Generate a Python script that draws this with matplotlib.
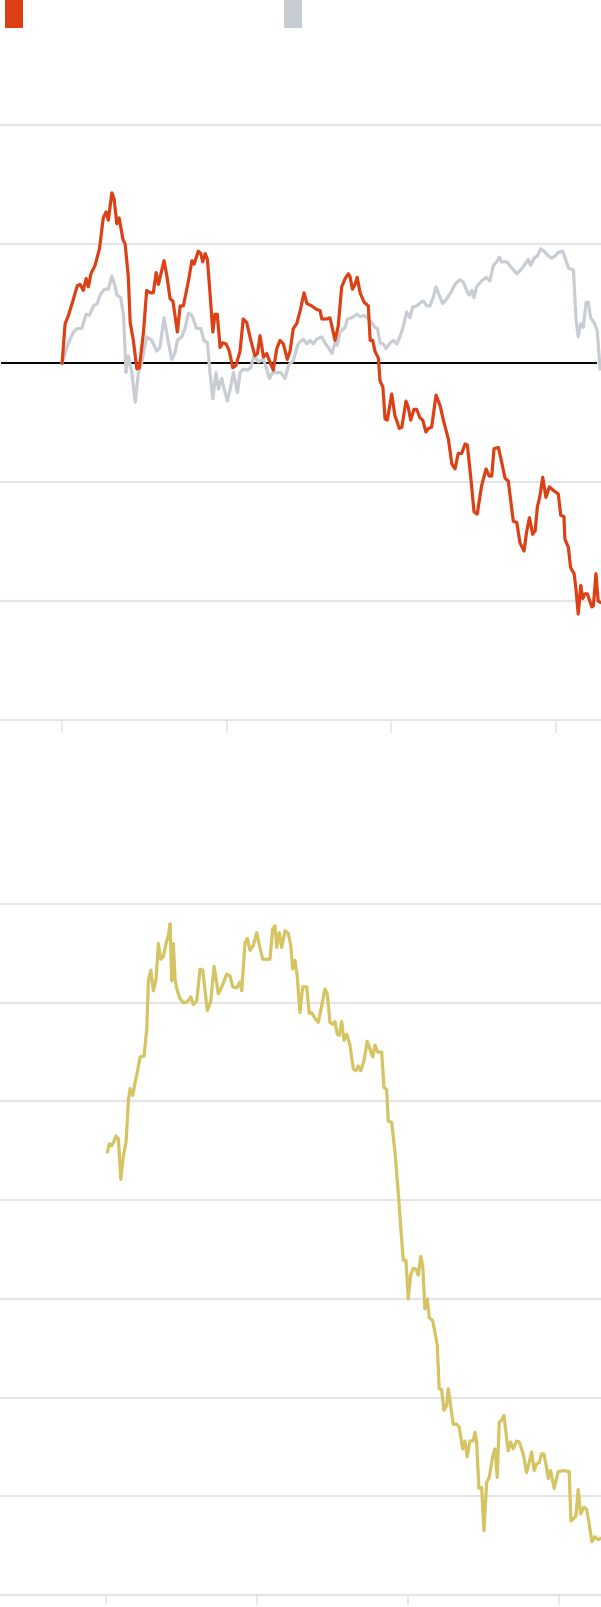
import matplotlib
matplotlib.use("Agg")
import matplotlib.pyplot as plt
from matplotlib.patches import Rectangle

# ---------------- data (x in weeks from first tick) ----------------
orange_w = [0, 0.95, 2.0, 3.6, 4.8, 5.7, 6.7, 7.6, 8.3, 9.1,
            10.4, 11.8, 13.0, 13.9, 14.6, 15.7, 16.4, 17.3, 18.0, 19.2,
            19.9, 20.9, 21.5, 22.5, 23.6, 24.4, 25.7, 26.7, 27.8, 28.8,
            29.7, 30.4, 31.3, 32.2, 33.1, 34.1, 35.0, 36.4, 37.3, 38.3,
            39.9, 41.0, 41.7, 43.0, 43.8, 44.4, 45.2, 45.9, 46.7, 47.6,
            48.3, 49.0, 49.9, 50.7, 51.8, 52.8, 53.9, 54.9, 56.2, 57.2,
            58.3, 59.6, 60.9, 61.7, 62.5, 63.6, 64.6, 65.9, 66.7, 67.8,
            68.8, 69.9, 71.1, 72.0, 73.0, 74.1, 75.2, 76.4, 77.3, 78.8,
            80.4, 81.5, 82.0, 83.6, 84.6, 85.2, 86.2, 87.2, 88.3, 89.4,
            90.4, 90.9, 91.7, 92.5, 93.2, 94.1, 95.4, 96.7, 97.3, 98.1,
            98.8, 99.9, 100.4, 101.3, 102.0, 102.7, 104.1, 105.1, 106.5, 107.3,
            108.6, 109.3, 110.1, 111.1, 112.0, 113.0, 113.9, 114.9, 115.7, 116.7,
            118.1, 119.4, 120.4, 122.0, 123.1, 124.1, 125.1, 126.2, 127.3, 128.0,
            129.1, 130.1, 131.1, 132.5, 133.9, 134.9, 135.7, 136.4, 137.8, 138.8,
            139.9, 140.9, 142.5, 143.6, 144.6, 145.9, 146.7, 147.6, 148.6, 149.4,
            150.1, 150.9, 151.8, 152.8, 153.9, 155.1, 156.7, 157.5, 158.5, 158.8,
            159.9, 160.6, 161.7, 162.3, 163.0, 163.8, 164.4, 165.1, 165.9, 167.3,
            167.8, 168.6, 169.3, 169.9]
orange_v = [0, 3.3, 4.0, 5.4, 6.5, 6.6, 6.1, 7.1, 6.4, 7.5,
            8.2, 9.6, 12.2, 12.7, 12.0, 14.3, 13.8, 11.7, 12.2, 10.4,
            10.0, 7.3, 3.4, 1.9, -0.5, -0.4, 2.6, 6.1, 5.9, 5.9,
            7.6, 6.6, 7.6, 8.6, 7.3, 5.4, 5.2, 2.6, 4.8, 4.8,
            6.9, 8.6, 8.3, 9.4, 9.2, 8.5, 9.2, 8.7, 5.9, 2.6,
            4.1, 4.1, 1.3, 1.7, 1.6, 1.0, -0.4, -0.2, 1.0, 3.7,
            3.4, 1.9, 0.6, 0.8, 2.3, 0.5, 0.8, -0.1, -0.6, 1.2,
            1.9, 1.6, 0.3, 1.0, 2.9, 3.3, 4.4, 5.9, 5.0, 4.8,
            4.5, 4.4, 3.7, 3.7, 3.8, 3.1, 1.9, 3.1, 6.4, 7.1,
            7.5, 7.3, 6.2, 6.6, 7.2, 5.9, 5.1, 4.8, 1.9, 1.9,
            1.0, 0.4, -1.5, -2.0, -4.7, -4.8, -2.6, -4.4, -5.5, -5.4,
            -3.2, -3.7, -4.8, -3.9, -3.9, -4.6, -4.8, -5.8, -5.5, -5.4,
            -2.7, -3.6, -4.8, -6.4, -8.5, -8.9, -7.6, -7.6, -6.8, -6.9,
            -9.7, -12.5, -12.7, -10.3, -8.9, -9.5, -9.5, -7.2, -7.1, -8.3,
            -9.7, -9.9, -13.3, -13.4, -15.1, -15.8, -14.2, -13.0, -14.4, -14.1,
            -12.1, -11.2, -9.6, -11.3, -10.4, -10.7, -11.0, -12.8, -12.9, -14.8,
            -15.5, -17.2, -17.7, -19.0, -21.1, -18.7, -19.8, -19.4, -19.4, -20.5,
            -20.4, -17.7, -20.0, -20.1]

grey_w = [0, 2.0, 3.6, 4.8, 6.2, 7.6, 8.6, 9.9, 11.1, 12.0,
          13.3, 14.6, 15.7, 16.7, 17.3, 18.5, 19.4, 20.2, 20.9, 22.0,
          23.1, 24.1, 25.2, 26.7, 28.3, 29.9, 30.9, 32.2, 33.6, 34.6,
          35.7, 36.4, 37.8, 38.8, 39.9, 41.0, 42.5, 43.8, 44.8, 45.9,
          46.7, 47.6, 48.6, 49.4, 50.4, 51.2, 52.2, 53.3, 54.1, 55.4,
          56.2, 57.2, 58.5, 59.6, 60.6, 62.0, 63.6, 64.6, 65.5, 66.5,
          67.8, 69.1, 70.4, 71.5, 73.0, 74.4, 75.2, 76.2, 77.3, 78.3,
          79.4, 80.4, 82.0, 83.0, 84.1, 85.2, 86.2, 86.9, 87.8, 89.4,
          90.1, 91.5, 93.1, 94.1, 95.4, 96.7, 97.8, 98.8, 99.6, 100.4,
          101.5, 102.3, 103.3, 104.6, 105.7, 106.7, 107.8, 108.8, 109.9, 110.7,
          112.0, 113.3, 114.1, 115.2, 116.2, 117.2, 118.1, 119.1, 120.2, 121.5,
          122.7, 124.1, 125.5, 126.7, 127.8, 128.6, 129.4, 130.1, 130.9, 132.5,
          133.9, 135.1, 136.2, 137.3, 138.1, 138.8, 140.4, 142.0, 143.6, 144.8,
          146.2, 147.2, 148.0, 149.0, 150.1, 151.2, 152.2, 153.6, 154.6, 155.7,
          156.7, 158.1, 158.8, 159.9, 160.6, 161.5, 162.3, 163.0, 163.8, 164.6,
          165.5, 166.2, 166.9, 168.0, 169.0, 169.9]
grey_v = [0, 1.7, 2.6, 2.9, 2.9, 4.1, 4.0, 4.8, 5.0, 5.7,
          6.2, 6.2, 7.3, 6.5, 5.7, 5.5, 4.0, -0.8, 0.6, -0.8,
          -3.3, -0.8, 0.1, 2.2, 1.9, 1.0, 1.3, 3.8, 1.7, 0.3,
          0.9, 1.9, 2.2, 2.9, 4.2, 4.0, 2.9, 2.9, 1.9, 1.7,
          -0.8, -3.0, -0.8, -2.2, -1.3, -2.2, -3.2, -1.9, -0.8, -2.5,
          -0.8, -0.5, -0.6, -0.4, 0.6, 0.1, 0.3, -0.5, -1.3, -0.8,
          -0.8, -0.8, -1.3, -0.2, 0.2, 1.5, 1.8, 2.0, 1.6, 1.9,
          1.6, 2.0, 2.2, 1.7, 1.3, 0.8, 1.7, 1.5, 2.6, 3.0,
          3.7, 3.8, 4.1, 3.9, 4.0, 3.7, 3.4, 3.0, 2.9, 1.7,
          1.6, 1.2, 1.6, 1.9, 1.6, 2.2, 3.1, 4.3, 3.8, 4.7,
          4.8, 5.1, 5.2, 4.8, 4.8, 5.5, 6.4, 5.7, 5.0, 5.4,
          5.9, 6.6, 7.0, 6.8, 6.1, 5.7, 6.1, 5.5, 6.4, 6.9,
          7.2, 6.9, 8.2, 8.5, 8.9, 8.5, 8.5, 8.0, 7.5, 7.8,
          8.3, 8.7, 8.2, 8.8, 9.0, 9.6, 9.4, 9.0, 8.8, 9.0,
          9.3, 9.4, 8.9, 8.0, 7.9, 7.8, 3.7, 2.2, 3.3, 3.0,
          5.1, 5.1, 3.8, 3.4, 2.7, -0.5]

yellow_w = [0.45, 1.14, 1.96, 2.75, 3.44, 4.24, 5.06, 5.96, 6.89, 7.68,
            8.26, 9.19, 9.99, 10.78, 11.71, 13.09, 14.01, 14.57, 15.39, 16.29,
            17.22, 18.01, 18.84, 19.73, 20.66, 21.45, 22.04, 22.62, 23.17, 23.76,
            24.35, 25.48, 26.62, 28.0, 29.17, 30.06, 31.23, 32.37, 33.30, 34.88,
            36.05, 37.19, 38.67, 39.84, 41.56, 42.70, 43.63, 45.0, 46.14, 46.73,
            47.87, 48.66, 49.59, 50.72, 51.89, 53.03, 53.96, 55.34, 56.47, 57.40,
            58.20, 58.78, 59.68, 60.50, 61.64, 62.78, 63.60, 64.29, 65.08, 65.87,
            66.80, 67.73, 69.11, 70.01, 70.83, 71.97, 73.11, 74.28, 75.41, 76.21,
            77.13, 78.06, 78.86, 79.65, 80.34, 81.16, 81.96, 82.89, 84.02, 85.16,
            86.09, 86.88, 87.71, 88.84, 89.98, 90.91, 91.84, 92.63, 93.56, 94.94,
            95.73, 96.66, 97.21, 98.38, 99.52, 100.65, 101.48, 102.38, 103.31, 104.10,
            104.92, 105.82, 106.75, 107.54, 108.37, 109.06, 109.85, 110.64, 111.33, 112.5,
            113.29, 114.08, 114.77, 115.6, 116.39, 117.32, 117.87, 118.7, 119.59, 120.76,
            121.66, 122.83, 123.62, 124.41, 125.34, 126.48, 127.07, 127.65, 128.44, 129.37,
            130.17, 131.1, 131.99, 133.16, 133.95, 134.75, 135.43, 136.26, 137.05, 138.53,
            139.36, 140.25, 141.43, 142.32, 143.7, 144.87, 145.66, 146.59, 147.49, 148.31,
            149.21, 150.03, 150.83, 151.76, 152.31, 153.13, 154.37, 155.75, 157.47, 159.54,
            160.12, 160.92, 161.85, 162.64, 163.46, 164.6, 165.53, 166.43, 167.36, 168.39,
            169.42, 170.11]
yellow_v = [44.9, 45.7, 45.5, 46.0, 46.5, 46.2, 42.1, 44.5, 45.9, 50.1,
            51.3, 50.6, 51.9, 53.0, 54.5, 54.6, 57.3, 62.2, 63.3, 61.2,
            62.4, 66.0, 64.4, 64.7, 66.0, 66.8, 68.0, 62.2, 66.0, 62.4,
            61.4, 60.4, 60.0, 60.1, 60.6, 59.8, 60.2, 63.4, 63.3, 59.2,
            60.1, 63.7, 60.9, 61.6, 62.9, 62.7, 61.6, 61.5, 62.1, 61.2,
            66.1, 66.5, 65.3, 65.8, 67.1, 65.5, 64.4, 64.4, 64.4, 67.5,
            67.8, 65.6, 67.1, 65.6, 67.3, 67.0, 65.8, 63.4, 64.3, 62.6,
            59.0, 61.6, 61.6, 58.9, 59.0, 58.4, 58.0, 59.7, 61.4, 60.9,
            58.0, 57.8, 58.1, 56.8, 56.7, 58.1, 56.2, 56.8, 55.7, 53.3,
            53.1, 53.6, 53.1, 54.1, 56.1, 55.3, 54.5, 55.7, 55.0, 55.0,
            51.4, 51.2, 48.0, 47.9, 44.9, 40.8, 37.4, 33.9, 33.9, 30.0,
            32.4, 33.1, 33.0, 32.4, 34.3, 33.4, 29.0, 30.0, 28.1, 27.8,
            26.6, 25.3, 20.9, 20.8, 18.7, 19.2, 20.9, 19.2, 17.3, 17.3,
            17.0, 14.8, 15.6, 14.0, 15.6, 15.6, 16.5, 15.5, 10.8, 10.9,
            6.5, 11.4, 11.9, 14.0, 14.8, 11.9, 17.5, 17.7, 18.2, 14.6,
            15.5, 14.8, 15.6, 15.5, 14.3, 12.4, 13.3, 14.5, 12.6, 13.3,
            13.4, 14.3, 14.3, 12.9, 11.8, 12.6, 10.8, 12.5, 12.6, 12.5,
            7.5, 7.7, 8.0, 10.7, 8.2, 8.9, 8.7, 7.2, 5.4, 5.9,
            5.6, 5.7]

top_grid = [20, 10, -10, -20, -30]
top_ticks = [0, 52, 104, 156]
bot_grid = [70, 60, 50, 40, 30, 20, 10, 0]
bot_ticks = [0, 52, 104, 156]

ORANGE = "#DC4014"
GREY = "#C8CCD3"
YELLOW = "#D5C461"
GRID = "#E5E5E5"

W, H = 601, 1608
fig = plt.figure(figsize=(W / 100, H / 100), dpi=100)
fig.patch.set_facecolor("white")


def style(ax, grid_vals, ticks, tick_len):
    for s in ax.spines.values():
        s.set_visible(False)
    for g in grid_vals:
        ax.axhline(g, color=GRID, lw=1.5, zorder=0, clip_on=False)
    ax.set_yticks([])
    ax.set_xticks(ticks)
    ax.set_xticklabels([])
    ax.tick_params(axis="x", length=tick_len, width=1.2, color=GRID, direction="out")
    ax.set_facecolor("none")


# ---------------- top panel ----------------
ax1 = fig.add_axes([1 / W, (H - 721) / H, 600 / W, 595 / H])
ax1.set_xlim(-19.3, 170.2)
ax1.set_ylim(-30, 20)
style(ax1, top_grid, top_ticks, 9.4)
ax1.axhline(0, color="black", lw=1.4, zorder=1, xmax=0.992)
ax1.plot(grey_w, grey_v, color=GREY, lw=2.3, zorder=2, solid_joinstyle="round", clip_on=False)
ax1.plot(orange_w, orange_v, color=ORANGE, lw=2.3, zorder=3, solid_joinstyle="round", clip_on=False)

# ---------------- bottom panel ----------------
ax2 = fig.add_axes([1 / W, (H - 1596) / H, 600 / W, 691 / H])
ax2.set_xlim(-36.2, 170.5)
ax2.set_ylim(0, 70)
style(ax2, bot_grid, bot_ticks, 7.4)
ax2.plot(yellow_w, yellow_v, color=YELLOW, lw=2.3, zorder=3, solid_joinstyle="round", clip_on=False)

# ---------------- legend swatches ----------------
for x0, col in [(5, ORANGE), (284, GREY)]:
    fig.add_artist(Rectangle((x0 / W, (H - 29) / H), 18 / W, 28 / H,
                             transform=fig.transFigure, facecolor=col,
                             edgecolor="none"))

fig.savefig("out.png", dpi=100, facecolor="white")
